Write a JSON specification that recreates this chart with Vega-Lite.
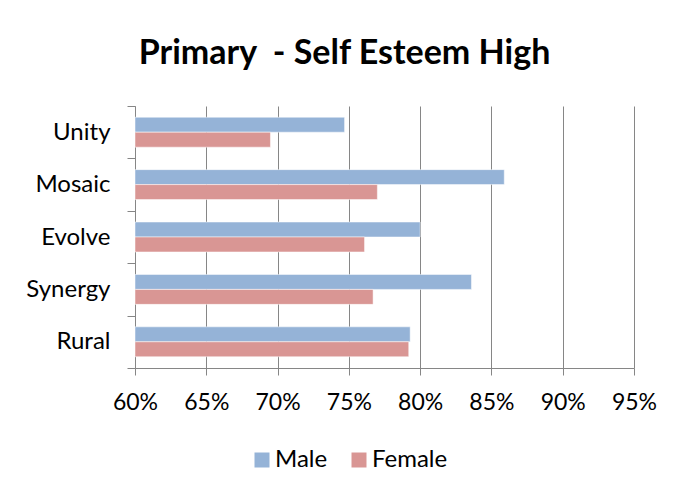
{
  "$schema": "https://vega.github.io/schema/vega-lite/v6.json",
  "autosize": {"type": "none"},
  "width": 499,
  "height": 262,
  "padding": {"left": 135, "top": 106, "right": 46, "bottom": 124},
  "background": "white",
  "title": {
    "text": "Primary\u00a0 - Self Esteem High",
    "font": "Lato",
    "fontSize": 34,
    "fontWeight": "bold",
    "color": "#000000",
    "anchor": "middle",
    "dx": -40,
    "offset": 23
  },
  "data": {
    "values": [
      {"school": "Unity", "gender": "Male", "value": 0.747},
      {"school": "Unity", "gender": "Female", "value": 0.695},
      {"school": "Mosaic", "gender": "Male", "value": 0.859},
      {"school": "Mosaic", "gender": "Female", "value": 0.770},
      {"school": "Evolve", "gender": "Male", "value": 0.800},
      {"school": "Evolve", "gender": "Female", "value": 0.761},
      {"school": "Synergy", "gender": "Male", "value": 0.836},
      {"school": "Synergy", "gender": "Female", "value": 0.767},
      {"school": "Rural", "gender": "Male", "value": 0.793},
      {"school": "Rural", "gender": "Female", "value": 0.792}
    ]
  },
  "mark": {"type": "bar", "stroke": "white", "strokeWidth": 0.5},
  "encoding": {
    "y": {
      "field": "school",
      "type": "nominal",
      "sort": ["Unity", "Mosaic", "Evolve", "Synergy", "Rural"],
      "scale": {"paddingInner": 0, "paddingOuter": 0},
      "axis": {
        "title": null,
        "tickBand": "extent",
        "grid": false,
        "domainColor": "#868686",
        "tickColor": "#868686",
        "tickSize": 8,
        "labelFont": "Lato",
        "labelFontSize": 24,
        "labelColor": "#000000",
        "labelPadding": 17
      }
    },
    "yOffset": {
      "field": "gender",
      "type": "nominal",
      "sort": ["Male", "Female"],
      "scale": {"paddingInner": 0, "paddingOuter": 0.75}
    },
    "x": {
      "field": "value",
      "type": "quantitative",
      "scale": {"domain": [0.6, 0.95], "zero": false, "nice": false},
      "axis": {
        "title": null,
        "format": ".0%",
        "values": [0.6, 0.65, 0.7, 0.75, 0.8, 0.85, 0.9, 0.95],
        "grid": true,
        "gridColor": "#868686",
        "gridOpacity": 1,
        "domainColor": "#868686",
        "tickColor": "#868686",
        "tickSize": 7,
        "labelFont": "Lato",
        "labelFontSize": 23,
        "labelColor": "#000000",
        "labelPadding": 16,
        "labelFlush": false
      }
    },
    "x2": {"datum": 0.6},
    "color": {
      "field": "gender",
      "type": "nominal",
      "sort": ["Male", "Female"],
      "scale": {"domain": ["Male", "Female"], "range": ["#95B3D7", "#D99694"]},
      "legend": {
        "title": null,
        "orient": "none",
        "direction": "horizontal",
        "legendX": 115,
        "legendY": 342,
        "symbolType": "square",
        "symbolSize": 225,
        "symbolStrokeWidth": 0,
        "symbolOpacity": 1,
        "labelFont": "Lato",
        "labelFontSize": 24,
        "labelColor": "#000000",
        "labelOffset": 1,
        "columnPadding": 19
      }
    }
  },
  "config": {"view": {"stroke": null}}
}
